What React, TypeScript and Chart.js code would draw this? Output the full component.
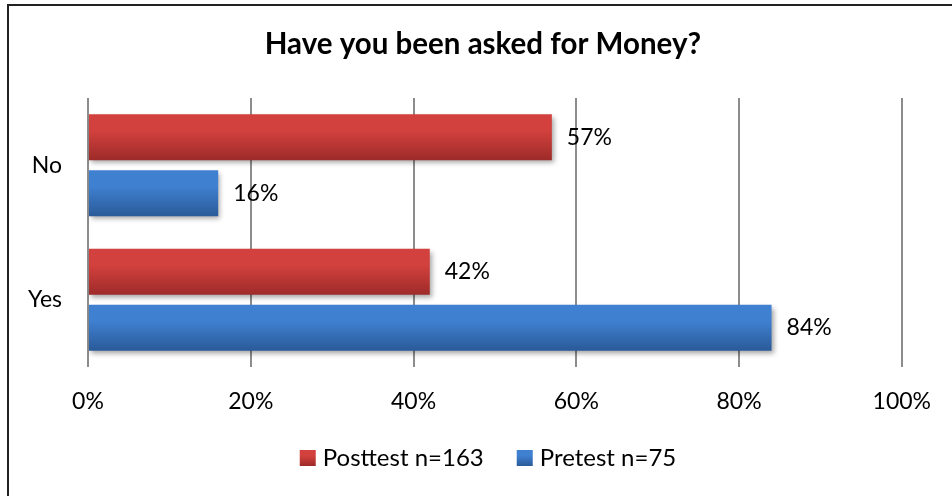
import React, { useEffect, useRef } from "react";
import { Chart, registerables } from "chart.js";

Chart.register(...registerables);

const categories = ["No", "Yes"];
const posttestValues = [57, 42];
const pretestValues = [16, 84];
const seriesNames = ["Posttest n=163", "Pretest n=75"];
const xTicks = [0, 20, 40, 60, 80, 100];
const titleText = "Have you been asked for Money?";

const FONT = "Lato, 'Open Sans', sans-serif";
const palettes = [
  { top: "#d3413e", bottom: "#9d2b29" },
  { top: "#3f80d1", bottom: "#2a5a98" },
];

function grad(ctx: CanvasRenderingContext2D, y0: number, y1: number, p: { top: string; bottom: string }) {
  const g = ctx.createLinearGradient(0, y0, 0, y1);
  g.addColorStop(0, p.top);
  g.addColorStop(0.35, p.top);
  g.addColorStop(1, p.bottom);
  return g;
}

const barStylePlugin = {
  id: "barStyle",
  afterLayout(chart: any) {
    // centre the title over the plot region like the original
    if (chart.titleBlock) {
      chart.titleBlock.left = 64;
      chart.titleBlock.right = chart.chartArea.right;
    }
  },
  beforeDatasetsDraw(chart: any) {
    const ctx = chart.ctx as CanvasRenderingContext2D;
    chart.data.datasets.forEach((_ds: any, i: number) => {
      const meta = chart.getDatasetMeta(i);
      meta.data.forEach((bar: any) => {
        const { y, height } = bar.getProps(["y", "height"], true);
        const g = grad(ctx, y - height / 2, y + height / 2, palettes[i]);
        bar.options = { ...bar.options, backgroundColor: g };
      });
    });
    ctx.save();
    ctx.shadowColor = "rgba(0,0,0,0.35)";
    ctx.shadowBlur = 5;
    ctx.shadowOffsetX = 2;
    ctx.shadowOffsetY = 3;
  },
  afterDatasetsDraw(chart: any) {
    const ctx = chart.ctx as CanvasRenderingContext2D;
    ctx.restore();
    ctx.save();
    ctx.font = `23px ${FONT}`;
    ctx.fillStyle = "#000";
    ctx.textAlign = "left";
    ctx.textBaseline = "middle";
    chart.data.datasets.forEach((ds: any, i: number) => {
      const meta = chart.getDatasetMeta(i);
      meta.data.forEach((bar: any, j: number) => {
        const { x, y } = bar.getProps(["x", "y"], true);
        ctx.fillText(`${ds.data[j]}%`, x + 15, y);
      });
    });
    ctx.restore();
  },
  afterDraw(chart: any) {
    const ctx = chart.ctx as CanvasRenderingContext2D;
    ctx.save();
    ctx.font = `24px ${FONT}`;
    ctx.textBaseline = "middle";
    ctx.textAlign = "left";
    const box = 16;
    const gap = 7;
    const itemGap = 33;
    const widths = seriesNames.map((n) => ctx.measureText(n).width);
    const total = widths.reduce((a, w) => a + box + gap + w, 0) + itemGap * (seriesNames.length - 1);
    let x = 488 - total / 2;
    const cy = 458;
    seriesNames.forEach((n, i) => {
      ctx.fillStyle = grad(ctx, cy - box / 2, cy + box / 2, palettes[i]);
      ctx.fillRect(x, cy - box / 2, box, box);
      ctx.fillStyle = "#000";
      ctx.fillText(n, x + box + gap, cy);
      x += box + gap + widths[i] + itemGap;
    });
    ctx.restore();
  },
};

export default function App() {
  const ref = useRef<HTMLCanvasElement | null>(null);
  useEffect(() => {
    if (!ref.current) return;
    const chart = new Chart(ref.current, {
      type: "bar",
      data: {
        labels: categories,
        datasets: [
          { label: seriesNames[0], data: posttestValues, backgroundColor: palettes[0].top, borderWidth: 0 },
          { label: seriesNames[1], data: pretestValues, backgroundColor: palettes[1].top, borderWidth: 0 },
        ],
      },
      options: {
        indexAxis: "y",
        responsive: false,
        animation: false,
        devicePixelRatio: 1,
        categoryPercentage: 0.833,
        barPercentage: 0.821,
        layout: { padding: { left: 0, right: 50, top: 0, bottom: 0 } },
        plugins: {
          legend: { display: false },
          tooltip: { enabled: false },
          title: {
            display: true,
            text: titleText,
            color: "#000",
            font: { family: FONT, size: 29.5, weight: "bold" },
            padding: { top: 27, bottom: 35.6 },
          },
        },
        scales: {
          x: {
            type: "linear",
            min: 0,
            max: 100,
            afterBuildTicks: (s: any) => {
              s.ticks = xTicks.map((v) => ({ value: v }));
            },
            afterFit: (s: any) => {
              s.height = 129;
            },
            ticks: {
              color: "#000",
              font: { family: FONT, size: 23 },
              padding: 21,
              maxRotation: 0,
              callback: (v: any) => `${v}%`,
            },
            grid: { color: "#8c8c8c", lineWidth: 2, drawTicks: false },
            border: { display: false },
          },
          y: {
            type: "category",
            afterFit: (s: any) => {
              s.width = 88;
            },
            ticks: {
              color: "#000",
              font: { family: FONT, size: 23 },
              padding: 26,
            },
            grid: { display: false, drawTicks: false },
            border: { display: false },
          },
        },
      },
      plugins: [barStylePlugin],
    });
    return () => chart.destroy();
  }, []);

  return (
    <>
      <canvas
        ref={ref}
        width={952}
        height={496}
        style={{ position: "fixed", left: 0, top: 0, width: 952, height: 496, background: "#fff" }}
      />
      <div
        style={{
          position: "fixed",
          left: 7,
          top: 4,
          width: 980,
          height: 520,
          border: "2px solid #222",
          boxSizing: "border-box",
          pointerEvents: "none",
        }}
      />
    </>
  );
}
